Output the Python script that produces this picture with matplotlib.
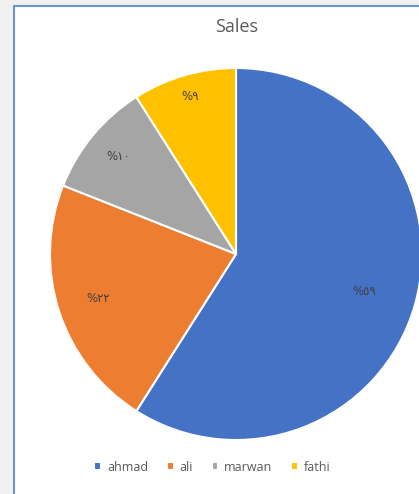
import matplotlib
matplotlib.use("Agg")
import matplotlib.pyplot as plt
from matplotlib.patches import Rectangle
import numpy as np

categories = ["ahmad", "ali", "marwan", "fathi"]
values = [59, 22, 10, 9]
colors = ["#4472C4", "#ED7D31", "#A5A5A5", "#FFC000"]
title = "Sales"

AR_DIGITS = "٠١٢٣٤٥٦٧٨٩"

def arabic_pct(p):
    n = str(int(round(p)))
    return "%" + "".join(AR_DIGITS[int(c)] for c in n)

W, H = 419, 494
fig = plt.figure(figsize=(W / 100, H / 100), dpi=100, facecolor="#f0f0f0")

# white chart area with blue frame
frame = Rectangle((13.5 / W, -0.05), 1.0, (H - 5.5) / H + 0.05,
                  transform=fig.transFigure, facecolor="white",
                  edgecolor="#6d95cf", linewidth=1.5, zorder=-10)
fig.patches.append(frame)

cx, cy, r = 236, 254, 186
ax = fig.add_axes([(cx - r) / W, (H - cy - r) / H, 2 * r / W, 2 * r / H])
ax.set_zorder(5)
ax.patch.set_visible(False)
wedges, texts, autotexts = ax.pie(
    values, colors=colors, startangle=90, counterclock=False,
    autopct=arabic_pct, pctdistance=1.0,
    wedgeprops=dict(edgecolor="white", linewidth=1.5),
    textprops=dict(color="#404040", fontsize=8.5, family=["DejaVu Sans"]),
)
# best-fit style label distances (like Excel)
label_dist = [0.72, 0.78, 0.82, 0.88]
for t, d in zip(autotexts, label_dist):
    x, y = t.get_position()
    t.set_position((x * d, y * d))

ax.set_xlim(-1, 1)
ax.set_ylim(-1, 1)
ax.set_aspect("equal")
ax.axis("off")

fig.text(0.564, 1 - 27 / H, title, ha="center", va="center",
         fontsize=13, color="#595959", family="Open Sans", zorder=6)

leg = fig.legend(wedges, categories, loc="center", ncol=4,
                 bbox_to_anchor=(0.507, 1 - 467 / H), frameon=False,
                 handlelength=0.55, handleheight=0.55, handletextpad=0.45,
                 columnspacing=1.5, fontsize=9)
leg.set_zorder(6)
for t in leg.get_texts():
    t.set_color("#595959")
    t.set_family("Open Sans")

fig.savefig("out.png", dpi=100, facecolor=fig.get_facecolor())
